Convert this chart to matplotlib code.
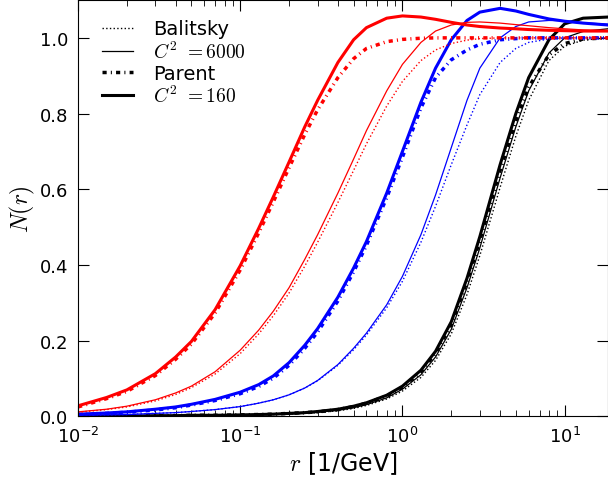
import matplotlib
matplotlib.use('Agg')
import matplotlib.pyplot as plt

plt.rcParams['mathtext.fontset'] = 'cm'
plt.rcParams['font.family'] = 'DejaVu Sans'

# dipole size grid [1/GeV]
r = [0.01, 0.015, 0.02, 0.03, 0.04, 0.05, 0.07, 0.1, 0.13, 0.16, 0.2, 0.25,
     0.3, 0.4, 0.5, 0.6, 0.8, 1.0, 1.3, 1.6, 2.0, 2.5, 3.0, 4.0, 5.0, 6.0,
     8.0, 10.0, 13.0, 18.5]

# red curves
red_bal = [0.011, 0.018, 0.025, 0.041, 0.058, 0.076, 0.112, 0.166, 0.218,
           0.266, 0.326, 0.397, 0.46, 0.565, 0.65, 0.72, 0.82, 0.885, 0.94,
           0.968, 0.985, 0.994, 0.998, 1.0, 1.0, 1.0, 1.0, 1.0, 1.0, 1.0]
red_6000 = [0.012, 0.019, 0.027, 0.044, 0.062, 0.080, 0.118, 0.175, 0.228,
            0.278, 0.34, 0.415, 0.48, 0.59, 0.68, 0.755, 0.86, 0.93, 0.988,
            1.018, 1.034, 1.041, 1.042, 1.039, 1.035, 1.032, 1.027, 1.024,
            1.021, 1.019]
red_par = [0.025, 0.047, 0.066, 0.108, 0.151, 0.191, 0.273, 0.387, 0.485,
           0.567, 0.657, 0.745, 0.81, 0.895, 0.945, 0.972, 0.99, 0.996,
           0.999, 1.0, 1.0, 1.0, 1.0, 1.0, 1.0, 1.0, 1.0, 1.0, 1.0, 1.0]
red_160 = [0.028, 0.050, 0.070, 0.113, 0.157, 0.198, 0.282, 0.398, 0.497,
           0.580, 0.672, 0.765, 0.835, 0.935, 0.995, 1.027, 1.052, 1.058,
           1.055, 1.049, 1.041, 1.034, 1.030, 1.026, 1.024, 1.022, 1.020,
           1.019, 1.018, 1.018]

# blue curves
blue_bal = [0.003, 0.004, 0.005, 0.008, 0.010, 0.013, 0.018, 0.026, 0.035,
            0.044, 0.057, 0.075, 0.094, 0.135, 0.176, 0.215, 0.287, 0.357,
            0.46, 0.555, 0.665, 0.77, 0.85, 0.935, 0.972, 0.988, 0.997, 1.0,
            1.0, 1.0]
blue_6000 = [0.003, 0.004, 0.005, 0.008, 0.010, 0.013, 0.018, 0.026, 0.035,
             0.044, 0.057, 0.075, 0.095, 0.137, 0.18, 0.22, 0.295, 0.37,
             0.48, 0.585, 0.71, 0.835, 0.92, 1.0, 1.03, 1.042, 1.046, 1.045,
             1.04, 1.036]
blue_par = [0.005, 0.008, 0.011, 0.017, 0.023, 0.030, 0.042, 0.060, 0.079,
            0.101, 0.135, 0.18, 0.223, 0.305, 0.382, 0.452, 0.578, 0.685,
            0.815, 0.895, 0.942, 0.968, 0.983, 0.995, 0.998, 1.0, 1.0, 1.0,
            1.0, 1.0]
blue_160 = [0.006, 0.009, 0.012, 0.019, 0.025, 0.032, 0.045, 0.064, 0.084,
            0.107, 0.142, 0.188, 0.232, 0.315, 0.392, 0.462, 0.59, 0.70,
            0.83, 0.92, 0.995, 1.046, 1.068, 1.078, 1.071, 1.062, 1.050,
            1.044, 1.039, 1.034]

# black curves
black_bal = [0.0, 0.0, 0.001, 0.001, 0.001, 0.002, 0.002, 0.003, 0.004,
             0.005, 0.006, 0.008, 0.010, 0.015, 0.021, 0.029, 0.046, 0.067,
             0.103, 0.148, 0.218, 0.322, 0.425, 0.605, 0.74, 0.835, 0.94,
             0.978, 0.994, 1.0]
black_6000 = [0.0, 0.001, 0.001, 0.001, 0.002, 0.002, 0.002, 0.003, 0.004,
              0.005, 0.006, 0.008, 0.011, 0.016, 0.023, 0.031, 0.049, 0.072,
              0.11, 0.157, 0.23, 0.34, 0.445, 0.63, 0.765, 0.86, 0.96, 1.0,
              1.017, 1.024]
black_par = [0.001, 0.001, 0.001, 0.002, 0.002, 0.003, 0.003, 0.004, 0.005,
             0.006, 0.008, 0.010, 0.012, 0.018, 0.026, 0.035, 0.054, 0.077,
             0.118, 0.167, 0.243, 0.356, 0.465, 0.65, 0.78, 0.87, 0.955,
             0.985, 0.997, 1.0]
black_160 = [0.001, 0.001, 0.001, 0.002, 0.002, 0.003, 0.003, 0.004, 0.005,
             0.006, 0.008, 0.010, 0.013, 0.019, 0.027, 0.036, 0.056, 0.08,
             0.122, 0.172, 0.25, 0.365, 0.475, 0.665, 0.80, 0.895, 0.995,
             1.037, 1.052, 1.055]

groups = [('k', black_bal, black_6000, black_par, black_160),
          ('b', blue_bal, blue_6000, blue_par, blue_160),
          ('r', red_bal, red_6000, red_par, red_160)]

fig = plt.figure(figsize=(6.08, 4.81), dpi=100)
ax = fig.add_axes([0.1283, 0.1322, 0.8717, 0.8657])

for col, bal, c6000, par, c160 in groups:
    lab = col == 'k'
    ax.plot(r, bal, color=col, lw=1.0, ls=':',
            label='Balitsky' if lab else None)
    ax.plot(r, c6000, color=col, lw=0.9, ls='-',
            label=r'$C^2$ $=6000$' if lab else None)
    ax.plot(r, par, color=col, lw=2.5, dashes=(1.2, 1.2, 0.3, 1.2),
            label='Parent' if lab else None)
    ax.plot(r, c160, color=col, lw=2.2, ls='-',
            label=r'$C^2$ $=160$' if lab else None)

ax.set_xscale('log')
ax.set_xlim(0.01, 18.5)
ax.set_ylim(0, 1.1)
ax.set_yticks([0.0, 0.2, 0.4, 0.6, 0.8, 1.0])
ax.tick_params(which='both', direction='in', top=True, right=True,
               labelsize=13, pad=7)
ax.tick_params(which='major', length=8)
ax.tick_params(which='minor', length=4)

ax.set_xlabel(r'$r$ [1/GeV]', fontsize=17, labelpad=2)
ax.set_ylabel(r'$N(r)$', fontsize=17, labelpad=2)

ax.legend(loc='upper left', bbox_to_anchor=(0.031, 0.972), borderaxespad=0,
          frameon=False, fontsize=14, handlelength=1.6, handletextpad=1.0,
          labelspacing=0.1)

fig.savefig('out.png', dpi=100)
